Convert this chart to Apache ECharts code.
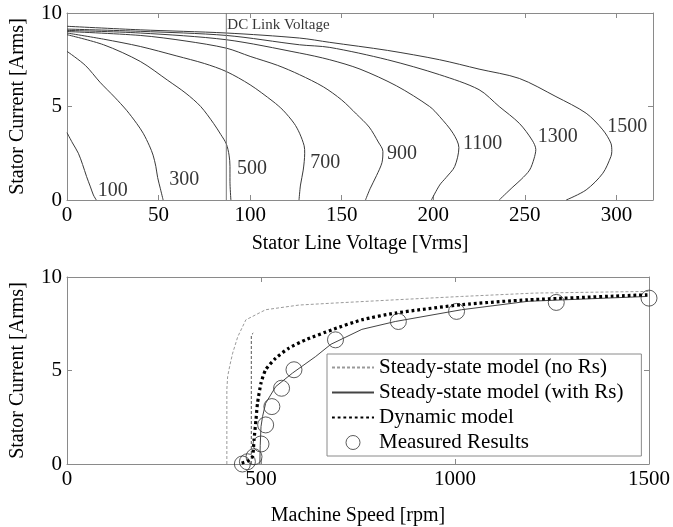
<!DOCTYPE html>
<html><head><meta charset="utf-8">
<script src="https://cdn.jsdelivr.net/npm/echarts@6/dist/echarts.min.js"></script>
<style>html,body{margin:0;padding:0;background:#fff}#c{width:673px;height:527px}</style>
</head><body><div id="c"></div>
<script>
// ---------- Top plot: stator current vs stator line voltage, one curve per speed ----------
const speedNames = ['100', '300', '500', '700', '900', '1100', '1300', '1500'];
const curve100 = [[0,3.6],[3,3.05],[6.2,2.5],[8.5,1.9],[10.7,1.25],[12.8,0.7],[14.4,0.27],[16,0]];
const curve300 = [[0,7.95],[10,7.2],[18,6.3],[26,5.5],[32.5,4.8],[38,4.1],[41.6,3.57],[45,2.9],[47,2.4],[48.5,1.8],[49.5,1.2],[51,0.6],[52.5,0]];
const curve500 = [[0,8.84],[20,8.3],[40,7.41],[55,6.4],[65,5.7],[73,5.0],[80,4.1],[84,3.5],[87,3.0],[88.5,2.4],[89,1.8],[89,1.0],[89.5,0]];
const curve700 = [[0,8.93],[20,8.6],[40,8.21],[60,7.7],[75,7.3],[87,6.87],[100,6.16],[112.5,5.27],[118,4.8],[124,4.1],[127,3.57],[129.5,2.9],[129.8,2.5],[129,1.6],[127.5,0.8],[126.7,0]];
const curve900 = [[0,9.01],[40,8.8],[65,8.5],[87,8.12],[100,7.68],[115,7.2],[127,6.7],[140,6.05],[150,5.35],[158,4.6],[165,3.9],[170,3.1],[172.5,2.6],[172,2.0],[169,1.3],[165.5,0.6],[163,0]];
const curve1100 = [[0,9.07],[40,8.93],[87,8.57],[127,7.86],[143.5,7.5],[160,7.0],[180,6.1],[198,5.0],[203.5,4.46],[210.8,3.57],[214,2.8],[211.7,1.79],[207,1.2],[203.5,0.8],[199,0]];
const curve1300 = [[0,9.14],[40,9.02],[87,8.8],[127,8.3],[143.5,8.16],[175,7.5],[203.5,6.7],[225,5.9],[236,5.0],[247,4.1],[254,3.2],[256,2.7],[255,2.2],[252.6,1.6],[248,1.1],[243.5,0.7],[236,0]];
const curve1500 = [[0,9.29],[40,9.1],[87,8.93],[127,8.66],[143.5,8.43],[175,8.0],[203.5,7.5],[225,7.0],[247,6.5],[267,5.53],[283.5,4.64],[292.6,3.75],[297,3.04],[297.5,2.6],[297,2.32],[292.6,1.43],[283.5,0.54],[272.6,0]];
const speedCurves = [curve100, curve300, curve500, curve700, curve900, curve1100, curve1300, curve1500];
// label anchor of each curve (voltage, current)
const speedLabelAt = [[25,0.5],[64,1.1],[101,1.65],[141,2.0],[183,2.5],[227,3.0],[268,3.4],[306,3.9]];
const dcLinkVoltage = 87;
const dcLinkText = 'DC Link Voltage';
const voltageTicks = [0, 320, 50];
const currentTicks = [0, 10, 5];

// ---------- Bottom plot: stator current vs machine speed ----------
const seriesNames = ['Steady-state model (no Rs)', 'Steady-state model (with Rs)', 'Dynamic model', 'Measured Results'];
const steadyNoRs = [[412,0],[412,4.0],[414,4.68],[420,5.3],[427,5.93],[440,6.8],[461,7.71],[512,8.25],[598,8.5],[683,8.6],[846,8.78],[1017,8.96],[1205,9.14],[1500,9.23]];
const steadyNoRsStep = [[475,0],[475,6.9],[480,7.0]];
const steadyWithRs = [[497,0],[498,1.0],[500,2.0],[504,2.54],[512,3.25],[538,4.14],[581,4.86],[641,5.75],[680,6.4],[760,7.2],[846,7.62],[1017,8.25],[1188,8.7],[1496,8.96]];
const dynamicModel = [[450,0.05],[465,0.15],[478,0.39],[482,1.29],[487,2.36],[491,3.25],[500,4.32],[512,5.04],[538,5.66],[572,6.2],[615,6.64],[683,7.18],[760,7.71],[846,8.07],[1017,8.52],[1188,8.78],[1496,9.05]];
const measured = [[452,0.0],[465,0.12],[482,0.39],[500,1.07],[512,2.09],[528,3.07],[553,4.05],[585,5.04],[692,6.64],[854,7.62],[1004,8.16],[1261,8.64],[1500,8.87]];
const speedTicks = [0, 1500, 500];

const FONT = 'Liberation Serif';
const AXC = '#8a8a8a';

function mkAxis(type, grid, pos, ticks, labels, name, nameGap) {
  return {
    type: 'value', gridIndex: grid, position: pos,
    min: ticks[0], max: ticks[1], interval: ticks[2],
    axisLine: {show: true, onZero: false, lineStyle: {color: AXC, width: 1}},
    axisTick: {show: true, inside: true, length: 5, lineStyle: {color: AXC}},
    axisLabel: {show: labels, color: '#000', fontFamily: FONT, fontSize: 21, margin: 5,
                showMaxLabel: (ticks[1] % ticks[2] === 0),
                formatter: v => String(v)},
    splitLine: {show: false},
    name: name || '', nameLocation: 'middle', nameGap: nameGap || 0,
    nameTextStyle: {color: '#000', fontFamily: FONT, fontSize: 20}
  };
}

const series = [];
speedCurves.forEach((c, i) => {
  series.push({
    type: 'line', name: 'speed ' + speedNames[i], xAxisIndex: 0, yAxisIndex: 0,
    data: c, symbol: 'none', smooth: 0.3, silent: true,
    lineStyle: {color: '#3a3a3a', width: 1}
  });
});
series.push({
  type: 'line', name: 'dclink', xAxisIndex: 0, yAxisIndex: 0,
  data: [[dcLinkVoltage, currentTicks[0]], [dcLinkVoltage, currentTicks[1]]],
  symbol: 'none', lineStyle: {color: '#7a7a7a', width: 1}
});
series.push({
  type: 'scatter', name: 'speedLabels', xAxisIndex: 0, yAxisIndex: 0,
  symbolSize: 0,
  data: speedLabelAt.map((p, i) => [p[0], p[1], speedNames[i]]),
  label: {show: true, position: 'inside', color: '#000', fontFamily: FONT, fontSize: 20,
          formatter: p => p.value[2]}
});
series.push({
  type: 'scatter', name: 'dcLabel', xAxisIndex: 0, yAxisIndex: 0,
  symbolSize: 0,
  data: [[dcLinkVoltage, 9.35, dcLinkText]],
  label: {show: true, position: 'right', distance: 1, color: '#000', fontFamily: FONT, fontSize: 15,
          formatter: p => p.value[2]}
});

// bottom
series.push({
  type: 'line', name: seriesNames[0], xAxisIndex: 2, yAxisIndex: 2, data: steadyNoRs,
  symbol: 'none', color: '#9a9a9a', lineStyle: {color: '#9a9a9a', width: 1, type: [3, 2]}
});
series.push({
  type: 'line', name: 'noRsStep', xAxisIndex: 2, yAxisIndex: 2, data: steadyNoRsStep,
  symbol: 'none', color: '#555', lineStyle: {color: '#555', width: 1, type: [3, 2]}
});
series.push({
  type: 'line', name: seriesNames[1], xAxisIndex: 2, yAxisIndex: 2, data: steadyWithRs,
  symbol: 'none', color: '#444', lineStyle: {color: '#444', width: 1}
});
series.push({
  type: 'line', name: seriesNames[2], xAxisIndex: 2, yAxisIndex: 2, data: dynamicModel,
  symbol: 'none', smooth: 0.2, color: '#000', lineStyle: {color: '#000', width: 3.2, type: [2.8, 2.9]}
});
series.push({
  type: 'scatter', name: seriesNames[3], xAxisIndex: 2, yAxisIndex: 2, data: measured,
  symbol: 'circle', symbolSize: 16,
  itemStyle: {color: 'rgba(255,255,255,0)', borderColor: '#333', borderWidth: 1}
});

const hideSym = {opacity: 0};
const option = {
  animation: false,
  backgroundColor: '#fff',
  textStyle: {fontFamily: FONT},
  grid: [
    {left: 67, top: 13, width: 586, height: 187},
    {left: 67, top: 277, width: 585, height: 187}
  ],
  xAxis: [
    mkAxis('x', 0, 'bottom', voltageTicks, true, 'Stator Line Voltage [Vrms]', 34),
    mkAxis('x', 0, 'top', voltageTicks, false),
    mkAxis('x', 1, 'bottom', speedTicks, true, 'Machine Speed [rpm]', 42),
    mkAxis('x', 1, 'top', speedTicks, false)
  ],
  yAxis: [
    mkAxis('y', 0, 'left', currentTicks, true, 'Stator Current [Arms]', 39),
    mkAxis('y', 0, 'right', currentTicks, false),
    mkAxis('y', 1, 'left', currentTicks, true, 'Stator Current [Arms]', 39),
    mkAxis('y', 1, 'right', currentTicks, false)
  ],
  legend: {
    data: [
      {name: seriesNames[0], itemStyle: hideSym},
      {name: seriesNames[1], itemStyle: hideSym},
      {name: seriesNames[2], itemStyle: hideSym},
      {name: seriesNames[3], icon: 'circle', itemStyle: {color: 'rgba(255,255,255,0)', borderColor: '#333', borderWidth: 1}}
    ],
    orient: 'vertical', left: 327, top: 354,
    itemWidth: 42, itemHeight: 14, itemGap: 4,
    padding: [3, 18, 3, 4],
    borderColor: '#8a8a8a', borderWidth: 1, backgroundColor: '#fff',
    textStyle: {color: '#000', fontFamily: FONT, fontSize: 21},
    selectedMode: false
  },
  series: series
};
const chart = echarts.init(document.getElementById('c'), null, {renderer: 'canvas'});
chart.setOption(option);
</script>
</body></html>
